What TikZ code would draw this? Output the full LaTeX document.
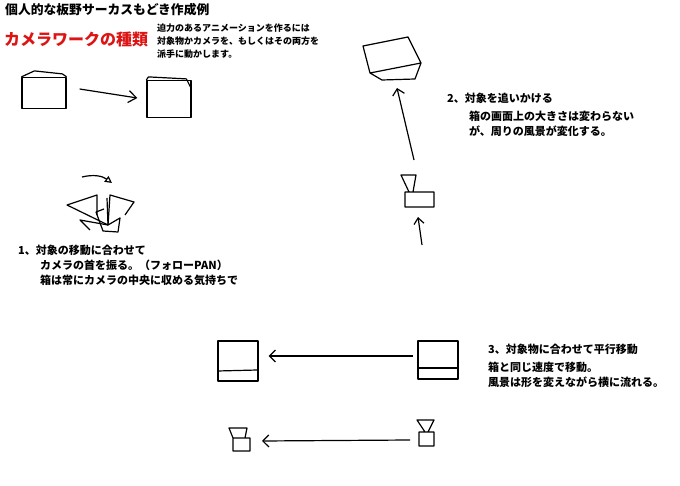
\documentclass[tikz,border=0pt]{standalone}
\usepackage{fontspec}
\setmainfont{Noto Sans CJK JP}
\usetikzlibrary{positioning}
\usetikzlibrary{calc}
\usetikzlibrary{arrows.meta}
\definecolor{titlered}{RGB}{220,20,20}

\begin{document}
\begin{tikzpicture}[x=1pt, y=-1pt, >=stealth,
    sketch/.style={line width=1.2pt, line join=round},
    box/.style={draw, sketch, minimum width=#1, inner sep=0pt},
    note/.style={anchor=north west, align=left, font=\fontsize{11}{15}\bfseries\selectfont, inner sep=0pt}]

\useasboundingbox (0,0) rectangle (680,486);

\node[anchor=north west, inner sep=0pt, font=\fontsize{12.8}{15}\bfseries\selectfont] (title) at (5,3) {個人的な板野サーカスもどき作成例};
\node[anchor=north west, inner sep=0pt, text=titlered, font=\fontsize{16}{18}\bfseries\selectfont] (kinds) at (4,32) {カメラワークの種類};
\node[note, font=\fontsize{9}{13}\bfseries\selectfont] (intro) at (157,24) {迫力のあるアニメーションを作るには\\対象物かカメラを、もしくはその両方を\\派手に動かします。};

% 1, follow pan
\node[box=44pt, minimum height=31pt] (boxA) at (44,93) {};
\draw[sketch] (boxA.north west) -- ++(13,-6) -- ++(28,3) -- (boxA.north east);
\node[box=44pt, minimum height=37pt] (boxB) at (169,99) {};
\draw[sketch] (boxB.north west) -- ++(2,-3) -- ++(38,2) -- ++(4,8);
\draw[sketch, -{Straight Barb[length=8pt,width=12pt]}] (boxA.east) ++(13,-4) coordinate (panS) -- ($(boxB.west)+(-9,-1)$);
\coordinate (pivot) at (108,225);
\draw[sketch] (pivot) -- (67,205) -- (97,195) -- (97,215);
\draw[sketch] (pivot) -- (110,195) -- (134,202) -- (125,215);
\draw[sketch] (pivot) -- (80,220) -- (90,230);
\draw[sketch] (pivot) -- (120,218) -- (118,232) -- (103,231) -- (96,212) -- (104,209);
\draw[sketch] (pivot) -- (107,198);
\draw[sketch, -{Triangle[open,length=7pt,width=7pt]}] (82,177) to[bend left=25] (112,183);
\node[note] (step1) at (18,245) {1、対象の移動に合わせて\\\hspace{2em}カメラの首を振る。（フォローPAN）\\\hspace{2em}箱は常にカメラの中央に収める気持ちで};

% 2, chase
\draw[sketch] (363,46) -- (408,37) -- (421,63) -- (415,79) -- (382,80) -- (370,73) -- cycle
    (370,73) -- (421,63);
\draw[sketch] (401,175) -- (416,175) -- (413,192) -- (409,192) -- cycle
    (405,192) rectangle (434,207);
\draw[sketch, -{Straight Barb[length=6pt,width=12pt]}] (414,160) -- (397,88);
\draw[sketch, -{Straight Barb[length=6pt,width=10pt]}] (422,245) -- (418,217);
\node[note] (step2) at (447,93) {2、対象を追いかける\\[3pt]\hspace{2em}箱の画面上の大きさは変わらない\\\hspace{2em}が、周りの風景が変化する。};

% 3, parallel move
\node[box=40pt, minimum height=40pt] (boxC) at (238,361) {};
\draw[sketch] (boxC.west) ++(0,10) -- ++(40,-1);
\node[box=40pt, minimum height=38pt] (boxD) at (438,360) {};
\draw[sketch] (boxD.west) ++(0,8) -- ++(40,0);
\draw[sketch, -{Straight Barb[length=6pt,width=12pt]}] (boxD.west) ++(-4,-4) coordinate (slideS) -- ($(boxC.east)+(10,-5)$);
\draw[sketch] (229,428) -- (247,428) -- (245,438) -- (233,438) -- cycle
    (233,438) rectangle (250,451);
\draw[sketch] (417,420) -- (434,420) -- (428,432) -- (425,432) -- cycle
    (419,432) rectangle (434,446);
\draw[sketch, -{Straight Barb[length=6pt,width=12pt]}] (410,440) -- (262,441);
\node[note] (step3) at (488,344) {3、対象物に合わせて平行移動\\[3pt]箱と同じ速度で移動。\\風景は形を変えながら横に流れる。};

\end{tikzpicture}
\end{document}
